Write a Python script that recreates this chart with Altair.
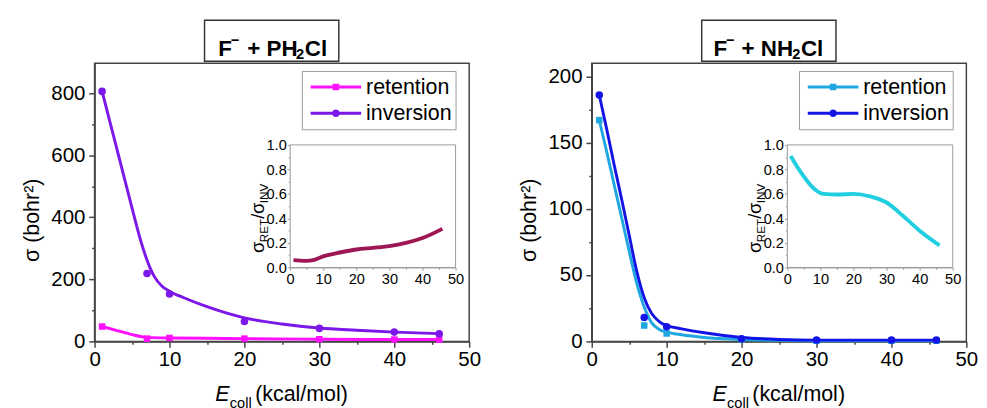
import altair as alt
import pandas as pd

# ---------------- data ----------------
E_points = [1, 7, 10, 20, 30, 40, 46]
series = ["retention", "inversion"]

# F- + PH2Cl
ph_ret_points = [48, 9, 11, 9, 7, 6, 6]
ph_inv_points = [806, 219, 153, 64, 42, 30, 25]
ph_ret_curve_E = [1, 3, 5, 7, 10, 15, 20, 30, 40, 46]
ph_ret_curve = [48, 35, 22, 13, 11, 10, 9, 7, 6, 6]
ph_inv_curve_E = [1, 2, 3, 4, 5, 6, 7, 8, 9, 10, 12, 15, 20, 25, 30, 35, 40, 46]
ph_inv_curve = [806, 712, 618, 524, 430, 338, 262, 208, 178, 162, 140, 112, 76, 56, 43, 36, 30, 25]
ph_ratio_E = [1, 3, 5, 7, 10, 15, 20, 25, 30, 35, 40, 46]
ph_ratio = [0.06, 0.056, 0.054, 0.06, 0.09, 0.122, 0.147, 0.16, 0.174, 0.2, 0.24, 0.315]

# F- + NH2Cl
nh_ret_points = [167, 12, 6, 1.5, 0.5, 0.5, 0.5]
nh_inv_points = [186, 18, 11, 2, 1, 1, 1]
nh_curve_E = [1, 2, 3, 4, 5, 6, 7, 8, 9, 10, 12, 15, 20, 25, 30, 40, 46]
nh_ret_curve = [167, 143, 118, 93, 68, 44, 26, 14, 9, 7, 5, 3, 1.5, 0.8, 0.5, 0.5, 0.5]
nh_inv_curve = [186, 160, 133, 107, 80, 53, 33, 21, 15, 12, 9.5, 6.5, 3, 1.5, 1, 1, 1]
nh_ratio_E = [1, 4, 8, 11, 15, 20, 25, 30, 35, 40, 46]
nh_ratio = [0.91, 0.78, 0.645, 0.60, 0.595, 0.60, 0.58, 0.53, 0.42, 0.30, 0.18]

# panel titles, split into normal / superscript / subscript pieces
ph_title = ["F", "−", "+ PH", "2", "Cl"]
nh_title = ["F", "−", "+ NH", "2", "Cl"]

# ---------------- styling ----------------
FONT = "Liberation Sans"
W, H = 385, 286
LEG_RET = "M-1,-0.06L1,-0.06L1,0.06L-1,0.06Z M-0.13,-0.13L0.13,-0.13L0.13,0.13L-0.13,0.13Z"
LEG_INV = "M-1,-0.06L1,-0.06L1,0.06L-1,0.06Z M0.15,0A0.15,0.15 0 1,1 -0.15,0A0.15,0.15 0 1,1 0.15,0Z"


def tick_cond(test, big, small):
    return {"condition": {"test": test, "value": big}, "value": small}


def text_layer(txt, x, y, size, **kw):
    return alt.Chart(pd.DataFrame({"t": [txt]})).mark_text(
        font=FONT, fontSize=size, color="black", **kw
    ).encode(x=alt.value(x), y=alt.value(y), text="t:N")


def panel(key, title_parts, title_x, ret_pts, inv_pts, ret_cE, ret_c, inv_cE, inv_c,
          ratio_E, ratio, ymax, ytop, ymajor, yminor, c_ret, c_inv, c_ratio):
    fld = "series_" + key
    ret_curve_df = pd.DataFrame({"E": ret_cE, "sigma": ret_c})
    inv_curve_df = pd.DataFrame({"E": inv_cE, "sigma": inv_c})
    ret_pts_df = pd.DataFrame({"E": E_points, "sigma": ret_pts})
    inv_pts_df = pd.DataFrame({"E": E_points, "sigma": inv_pts})
    ratio_df = pd.DataFrame({"E": ratio_E, "ratio": ratio})
    leg_df = pd.DataFrame({fld: series})
    one = pd.DataFrame({"a": [0]})

    xscale = alt.Scale(domain=[0, 50], nice=False)
    yscale = alt.Scale(domain=[0, ymax], nice=False)
    xaxis = alt.Axis(
        orient="bottom", title=None, values=list(range(0, 51, 5)),
        labelExpr="datum.value % 10 == 0 ? datum.label : ''",
        tickSize=tick_cond("datum.value % 10 == 0", 6, 3),
        labelFontSize=21, labelPadding=2, labelFlush=False, labelOverlap=False,
    )
    yaxis = alt.Axis(
        orient="left", title="σ (bohr²)", values=list(range(0, ytop + 1, yminor)),
        labelExpr=f"datum.value % {ymajor} == 0 ? datum.label : ''",
        tickSize=tick_cond(f"datum.value % {ymajor} == 0", 6, 3),
        labelFontSize=21, labelPadding=4, labelFlush=False, labelOverlap=False,
        titleFontSize=22, titleFontWeight="normal", titlePadding=8, titleY=161,
    )
    X = alt.X("E:Q", scale=xscale, axis=xaxis)
    Y = alt.Y("sigma:Q", scale=yscale, axis=yaxis)

    ret_line = alt.Chart(ret_curve_df).mark_line(
        interpolate="monotone", strokeWidth=3, color=c_ret).encode(x=X, y=Y)
    inv_line = alt.Chart(inv_curve_df).mark_line(
        interpolate="monotone", strokeWidth=3, color=c_inv).encode(x=X, y=Y)
    ret_dots = alt.Chart(ret_pts_df).mark_square(
        size=45, color=c_ret, opacity=1).encode(x=X, y=Y)
    inv_dots = alt.Chart(inv_pts_df).mark_circle(
        size=60, color=c_inv, opacity=1).encode(x=X, y=Y)

    leg = alt.Legend(
        title=None, orient="none", legendX=213, legendY=8,
        strokeColor="#9a9a9a", padding=3, clipHeight=27, rowPadding=0,
        symbolSize=2704, symbolOffset=6, symbolStrokeWidth=0,
        labelFont=FONT, labelFontSize=22, labelColor="black", labelOffset=5,
    )
    legend_layer = alt.Chart(leg_df).transform_filter("false").mark_point(
        filled=True, opacity=1
    ).encode(
        color=alt.Color(f"{fld}:N", scale=alt.Scale(domain=series, range=[c_ret, c_inv]), legend=leg),
        shape=alt.Shape(f"{fld}:N", scale=alt.Scale(domain=series, range=[LEG_RET, LEG_INV]), legend=leg),
    )
    main = alt.layer(ret_line, inv_line, ret_dots, inv_dots, legend_layer)

    # inset
    ixscale = alt.Scale(domain=[0, 50], range=[201, 371], nice=False)
    iyscale = alt.Scale(domain=[0, 1], range=[210, 84], nice=False)
    ixaxis = alt.Axis(
        orient="bottom", offset=-76, title=None, values=list(range(0, 51, 5)),
        labelExpr="datum.value % 10 == 0 ? datum.label : ''",
        tickSize=tick_cond("datum.value % 10 == 0", 3, 2),
        domainColor="#9a9a9a", tickColor="#9a9a9a", domainWidth=1, tickWidth=1,
        labelFontSize=15, labelPadding=1, labelFlush=False, labelOverlap=False,
    )
    iyaxis = alt.Axis(
        orient="left", offset=-201, title=None,
        values=[round(i * 0.1, 1) for i in range(11)], format=".1f",
        labelExpr="round(datum.value * 10) % 2 == 0 ? datum.label : ''",
        tickSize=tick_cond("round(datum.value * 10) % 2 == 0", 3, 2),
        domainColor="#9a9a9a", tickColor="#9a9a9a", domainWidth=1, tickWidth=1,
        labelFontSize=15, labelPadding=1, labelFlush=False, labelOverlap=False,
    )
    frame = alt.Chart(one).mark_rect(fill="white", stroke="#9a9a9a", strokeWidth=1).encode(
        x=alt.XDatum(0, type="quantitative", scale=ixscale, axis=ixaxis),
        x2=alt.X2Datum(50),
        y=alt.YDatum(0, type="quantitative", scale=iyscale, axis=iyaxis),
        y2=alt.Y2Datum(1),
    )
    ratio_line = alt.Chart(ratio_df).mark_line(
        interpolate="monotone", strokeWidth=4, color=c_ratio
    ).encode(
        x=alt.X("E:Q", scale=ixscale, axis=ixaxis),
        y=alt.Y("ratio:Q", scale=iyscale, axis=iyaxis),
    )
    inset = alt.layer(frame, ratio_line)

    tF, tminus, tmid, tsub, tCl = title_parts
    xF, xminus, xmid, xsub, xCl = title_x
    decor = [
        alt.Chart(one).mark_rect(fill="white", stroke="#333333", strokeWidth=1.5).encode(
            x=alt.value(113), x2=alt.value(251), y=alt.value(-44), y2=alt.value(-2)),
        text_layer(tF, xF, -14.5, 23, fontWeight="bold", align="left"),
        text_layer(tminus, xminus, -24, 15, fontWeight="bold", align="left"),
        text_layer(tmid, xmid, -14.5, 23, fontWeight="bold", align="left"),
        text_layer(tsub, xsub, -9.5, 15, fontWeight="bold", align="left"),
        text_layer(tCl, xCl, -14.5, 23, fontWeight="bold", align="left"),
        text_layer("E", 124, 340, 22, fontStyle="italic", align="left"),
        text_layer("coll", 139, 349, 15, align="left"),
        text_layer("(kcal/mol)", 165, 340, 22, align="left"),
        text_layer("σ", 168, 195, 19, angle=270, align="left"),
        text_layer("RET", 174, 184, 12, angle=270, align="left"),
        text_layer("/", 168, 160, 19, angle=270, align="left"),
        text_layer("σ", 168, 155, 19, angle=270, align="left"),
        text_layer("INV", 174, 144, 12, angle=270, align="left"),
    ]
    return alt.layer(main, inset, *decor).resolve_scale(
        x="independent", y="independent"
    ).properties(width=W, height=H)


left = panel("ph", ph_title, [127, 140, 157, 207, 216],
             ph_ret_points, ph_inv_points,
             ph_ret_curve_E, ph_ret_curve, ph_inv_curve_E, ph_inv_curve,
             ph_ratio_E, ph_ratio, 897, 800, 200, 100,
             "#ff10ff", "#7b17e8", "#9e1654")
right = panel("nh", nh_title, [125, 138, 154, 206, 215],
              nh_ret_points, nh_inv_points,
              nh_curve_E, nh_ret_curve, nh_curve_E, nh_inv_curve,
              nh_ratio_E, nh_ratio, 210, 200, 50, 25,
              "#1ea7e0", "#1414e6", "#22cfe0")

chart = alt.hconcat(left, right, spacing=36).resolve_scale(
    color="independent", shape="independent"
).properties(
    padding={"left": 12, "top": 5, "right": 0, "bottom": 0}
).configure_view(
    stroke="#444444", strokeWidth=1.5
).configure_axis(
    labelFont=FONT, titleFont=FONT, labelColor="black", titleColor="black",
    domainColor="#444444", tickColor="#444444", domainWidth=1.5, tickWidth=1.5,
    grid=False,
)

chart.save("out.html", embed_options={"renderer": "svg", "actions": False})
